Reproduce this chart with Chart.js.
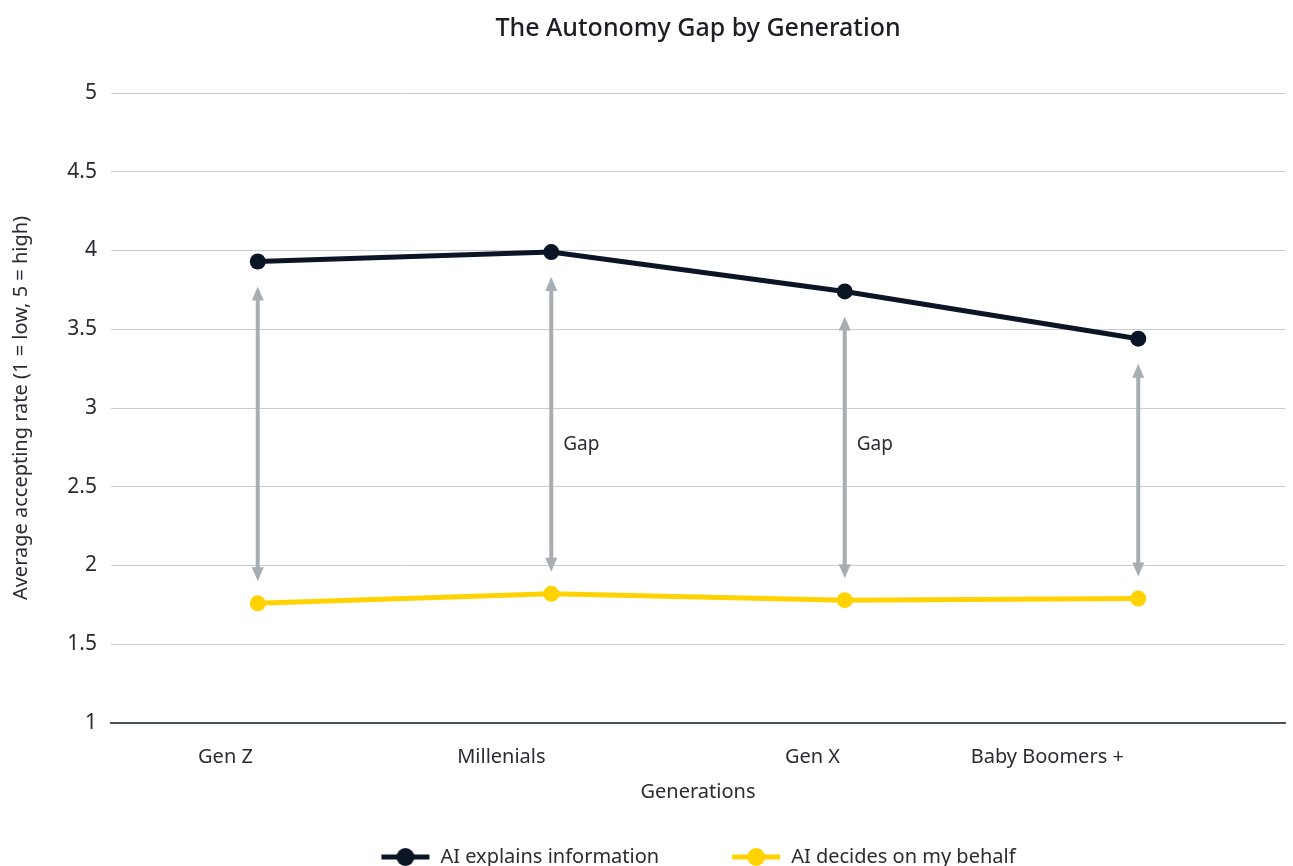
<!DOCTYPE html>
<html>
<head>
<meta charset="utf-8">
<title>The Autonomy Gap by Generation</title>
<script src="https://cdn.jsdelivr.net/npm/chart.js@4"></script>
<style>
  html, body { margin: 0; padding: 0; background: #fff; overflow: hidden; }
  #wrap { width: 1293px; height: 877px; }
</style>
</head>
<body>
<div id="wrap"><canvas id="gapChart"></canvas></div>
<script>
// categories and series
const generations = ['Gen Z', 'Millenials', 'Gen X', 'Baby Boomers +'];
const explainsInfo = [3.93, 3.99, 3.74, 3.44];
const decidesForMe = [1.76, 1.82, 1.78, 1.79];

// where the generation names sit along the x axis (category index units)
const labelPos = [-0.11, 0.83, 1.89, 2.69];
// which gaps get a "Gap" caption, and at what rating height
const gapCaptions = [1, 2];
const gapCaptionY = 2.77;

const FONT = '"Noto Sans", "Open Sans", sans-serif';
const TEXT = '#2b2b33';
const NAVY = '#0c1526';
const YELLOW = '#ffd200';
const ARROW = '#a8adb2';

// legend swatch: short line with a dot on it
function swatch(color) {
    const c = document.createElement('canvas');
    c.width = 50; c.height = 20;
    const g = c.getContext('2d');
    g.strokeStyle = color;
    g.lineWidth = 5;
    g.beginPath(); g.moveTo(1, 10); g.lineTo(49, 10); g.stroke();
    g.fillStyle = color;
    g.beginPath(); g.arc(25, 10, 9, 0, Math.PI * 2); g.fill();
    return c;
}

function arrowHead(ctx, x, y, dir) {
    ctx.beginPath();
    ctx.moveTo(x, y);
    ctx.lineTo(x - 6, y - dir * 14);
    ctx.lineTo(x + 6, y - dir * 14);
    ctx.closePath();
    ctx.fill();
}

// no side padding from axis labels; the plot runs to the right edge
function noSidePadding(s) {
    s.paddingLeft = 0;
    s.paddingRight = 0;
}

// title and legend are centred over the plot, not the whole canvas
const centreOnPlot = {
    id: 'centreOnPlot',
    afterLayout(chart) {
        const { left, right } = chart.chartArea;
        [chart.titleBlock, chart.legend].forEach(box => {
            if (!box) return;
            box.left = left;
            box.right = right;
            box.width = right - left;
        });
    }
};

// double-headed arrows between the two lines, plus "Gap" captions
const gapArrows = {
    id: 'gapArrows',
    afterDatasetsDraw(chart) {
        const top = chart.getDatasetMeta(0).data;
        const bottom = chart.getDatasetMeta(1).data;
        const ctx = chart.ctx;
        ctx.save();
        ctx.strokeStyle = ARROW;
        ctx.fillStyle = ARROW;
        ctx.lineWidth = 4;
        top.forEach((pt, i) => {
            const x = pt.x;
            const y1 = pt.y + 25;
            const y2 = bottom[i].y - 22;
            ctx.beginPath();
            ctx.moveTo(x, y1 + 10);
            ctx.lineTo(x, y2 - 10);
            ctx.stroke();
            arrowHead(ctx, x, y1, -1);
            arrowHead(ctx, x, y2, 1);
        });
        ctx.fillStyle = TEXT;
        ctx.font = '19px ' + FONT;
        ctx.textAlign = 'left';
        ctx.textBaseline = 'middle';
        const yScale = chart.scales.y;
        gapCaptions.forEach(i => {
            ctx.fillText('Gap', top[i].x + 12, yScale.getPixelForValue(gapCaptionY));
        });
        ctx.restore();
    }
};

new Chart(document.getElementById('gapChart'), {
    type: 'line',
    data: {
        labels: generations,
        datasets: [{
            label: 'AI explains information',
            data: explainsInfo,
            borderColor: NAVY,
            backgroundColor: NAVY,
            borderWidth: 5,
            pointRadius: 8,
            pointHoverRadius: 8,
            pointBorderWidth: 0,
            fill: false
        }, {
            label: 'AI decides on my behalf',
            data: decidesForMe,
            borderColor: YELLOW,
            backgroundColor: YELLOW,
            borderWidth: 5,
            pointRadius: 8,
            pointHoverRadius: 8,
            pointBorderWidth: 0,
            fill: false
        }]
    },
    options: {
        responsive: true,
        maintainAspectRatio: false,
        animation: false,
        // the layout keeps ~10px spare on the right; pull the plot back out to 1290
        layout: { padding: { left: 0, right: -7, top: 0, bottom: 0 } },
        scales: {
            x: {
                type: 'category',
                offset: true,
                display: false,
                afterFit: noSidePadding
            },
            xLabels: {
                type: 'linear',
                position: 'bottom',
                min: -0.5,
                max: 3.5,
                afterFit: s => { s.height = 52; noSidePadding(s); },
                grid: { display: false, drawTicks: false },
                border: { display: true, color: '#4b5059', width: 2 },
                afterBuildTicks: s => { s.ticks = labelPos.map(v => ({ value: v })); },
                ticks: {
                    autoSkip: false,
                    maxRotation: 0,
                    padding: 22,
                    color: TEXT,
                    font: { family: FONT, size: 20 },
                    callback: (v, i) => generations[i]
                },
                title: {
                    display: true,
                    text: 'Generations',
                    color: TEXT,
                    font: { family: FONT, size: 20 },
                    padding: { top: 0, bottom: -29 }
                }
            },
            y: {
                min: 1,
                max: 5,
                afterFit: s => { s.width = 111; },
                ticks: {
                    stepSize: 0.5,
                    padding: 14,
                    color: TEXT,
                    font: { family: FONT, size: 21 },
                    callback: v => String(v)
                },
                grid: { color: '#c9ccd0', lineWidth: 1, drawTicks: false },
                border: { display: false },
                title: {
                    display: true,
                    text: 'Average accepting rate (1 = low, 5 = high)',
                    color: TEXT,
                    font: { family: FONT, size: 20 },
                    padding: { top: 9, bottom: 0 }
                }
            }
        },
        plugins: {
            title: {
                display: true,
                text: 'The Autonomy Gap by Generation',
                color: '#1d1d26',
                font: { family: FONT, size: 25, weight: '500' },
                padding: { top: 14, bottom: 49 }
            },
            legend: {
                position: 'bottom',
                labels: {
                    usePointStyle: true,
                    pointStyleWidth: 50,
                    boxHeight: 20,
                    padding: 72,
                    color: TEXT,
                    font: { family: FONT, size: 20 },
                    generateLabels: chart => chart.data.datasets.map((ds, i) => ({
                        text: ds.label,
                        pointStyle: swatch(ds.borderColor),
                        fontColor: TEXT,
                        strokeStyle: ds.borderColor,
                        fillStyle: ds.borderColor,
                        lineWidth: 0,
                        hidden: false,
                        datasetIndex: i
                    }))
                }
            },
            tooltip: { enabled: false }
        }
    },
    plugins: [centreOnPlot, gapArrows]
});
</script>
</body>
</html>
